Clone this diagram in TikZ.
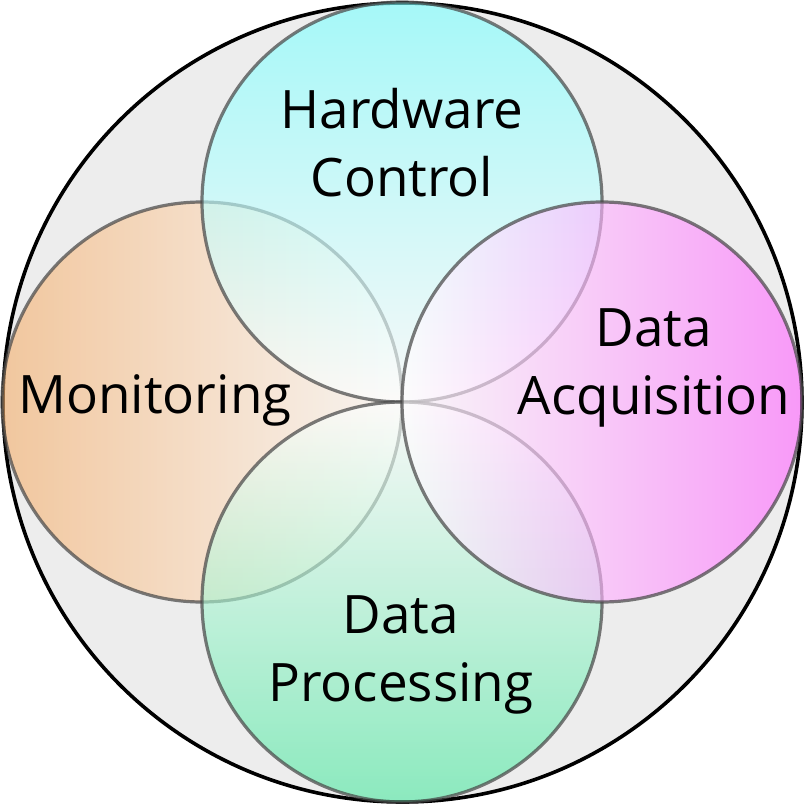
\documentclass[tikz,border=0pt]{standalone}
\usepackage{fontspec}
\setmainfont{Open Sans}
\definecolor{bggray}{HTML}{EDEDED}
\definecolor{cyanA}{HTML}{7AFFFF}
\definecolor{cyanB}{HTML}{FFFFFF}
\definecolor{orgA}{HTML}{F5B06E}
\definecolor{orgB}{HTML}{FFFAF6}
\definecolor{magA}{HTML}{FF66FF}
\definecolor{magB}{HTML}{FFFFFF}
\definecolor{grnA}{HTML}{50E8A2}
\definecolor{grnB}{HTML}{FFFFFF}
\definecolor{rimgray}{HTML}{484848}
\tikzset{
  petal/.style={draw=rimgray, line width=3.2pt, draw opacity=0.72, fill opacity=0.62},
  lbl/.style={font=\fontsize{53}{68}\selectfont, align=center, text=black, inner sep=0pt},
}
\begin{document}
\begin{tikzpicture}[x=1pt,y=-1pt]
\useasboundingbox (0,0) rectangle (805,805);
\draw[fill=bggray, line width=3.6pt] (402.5,402.5) circle (399.5);
% left
\path[petal, left color=orgA, right color=orgB] (202,402) circle (200);
% top
\path[petal, top color=cyanA, bottom color=cyanB] (402,202) circle (200);
% bottom
\path[petal, bottom color=grnA, top color=grnB] (402,602) circle (200);
% right
\path[petal, right color=magA, left color=magB] (602,402) circle (200);
\node[lbl] (hw) at (402,143) {Hardware\\Control};
\node[lbl] (mon) at (155,400) {Monitoring};
\node[lbl] (acq) at (654,368) {Data\\Acquisition};
\node[lbl] (proc) at (401,655) {Data\\Processing};
\end{tikzpicture}
\end{document}
